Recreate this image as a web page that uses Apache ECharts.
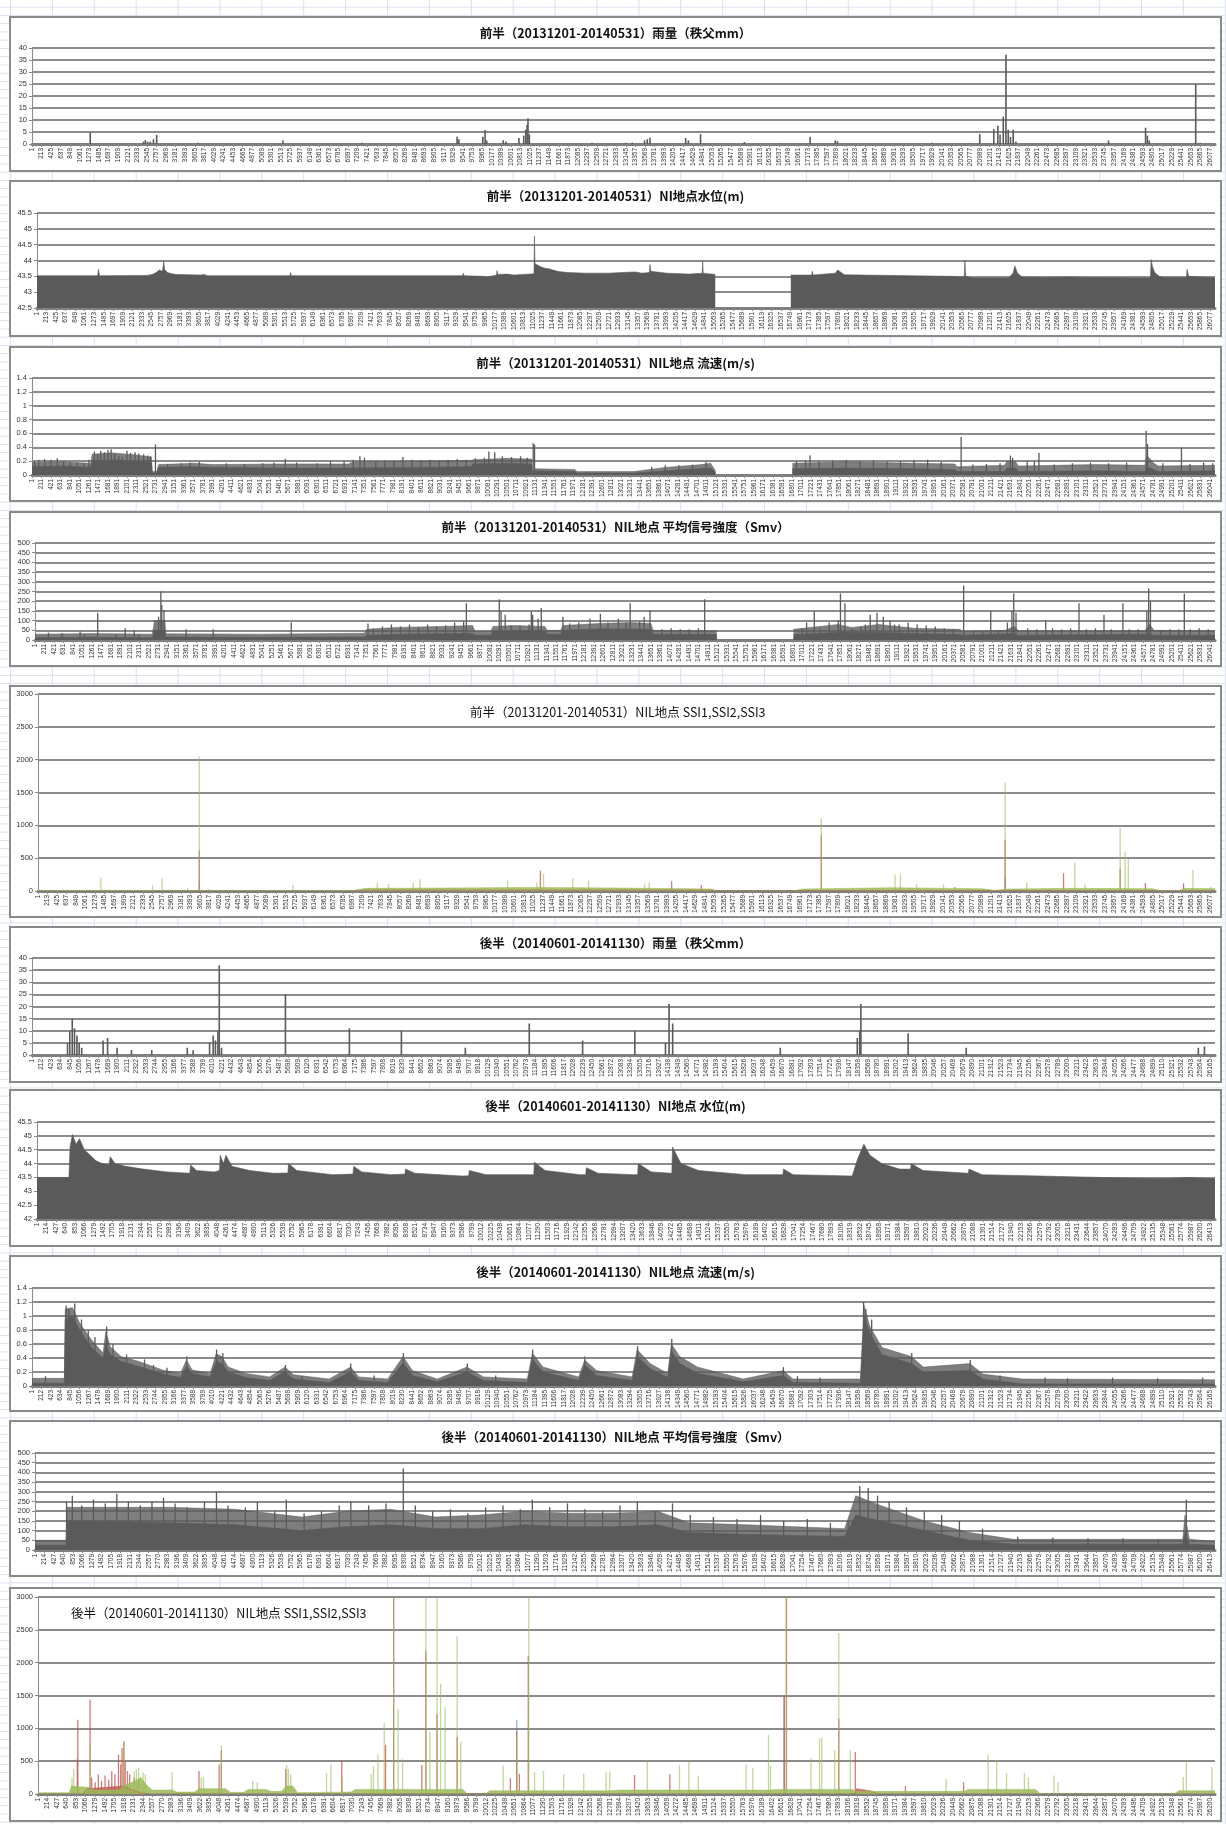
<!DOCTYPE html>
<html>
<head>
<meta charset="utf-8">
<script src="https://cdn.jsdelivr.net/npm/echarts@6/dist/echarts.min.js"></script>
<style>
html,body{margin:0;padding:0;}
body{width:1226px;height:1824px;background-color:#fff;
 background-image:linear-gradient(to right,#d9dfec 1px,transparent 1px),linear-gradient(to bottom,#d9dfec 1px,transparent 1px);
 background-size:41.9px 100%,100% 8.26px;background-position:10px 0,0 6.7px;}
#chart{width:1226px;height:1824px;}
</style>
</head>
<body>
<div id="chart"></div>
<script>
// ---- titles ----
const titles = [
  '前半（20131201-20140531）雨量（秩父mm）',
  '前半（20131201-20140531）NI地点水位(m)',
  '前半（20131201-20140531）NIL地点 流速(m/s)',
  '前半（20131201-20140531）NIL地点 平均信号強度（Smv）',
  '前半（20131201-20140531）NIL地点 SSI1,SSI2,SSI3',
  '後半（20140601-20141130）雨量（秩父mm）',
  '後半（20140601-20141130）NI地点 水位(m)',
  '後半（20140601-20141130）NIL地点 流速(m/s)',
  '後半（20140601-20141130）NIL地点 平均信号強度（Smv）',
  '後半（20140601-20141130）NIL地点 SSI1,SSI2,SSI3'
];

// ---- x tick labels: record 1, then every tickStep records ----
const tickStep = [212, 212, 210, 210, 212, 211, 213, 211, 213, 213];
const lastTick = [26077, 26077, 26041, 26041, 26077, 26165, 26413, 26165, 26413, 26200];
const lastRecord = [26187, 26190, 26152, 26150, 26190, 26275, 26525, 26275, 26525, 26310];

// ---- y scales ----
const yMin = [0, 42.5, 0, 0, 0, 0, 42, 0, 0, 0];
const yMax = [40, 45.5, 1.4, 500, 3000, 40, 45.5, 1.4, 500, 3000];
const yStep = [5, 0.5, 0.2, 50, 500, 5, 0.5, 0.2, 50, 500];

// =====================================================================
// 前半 (2013-12-01 .. 2014-05-31), [record no., value]
// =====================================================================
const rainA = [[1290,4.8],[2470,1],[2510,1.6],[2560,1],[2620,1],[2690,2],[2760,3.8],[3680,0.5],[5555,1.5],[7300,0.5],[9410,3],[9450,2],[9980,3],[10030,5.8],[10065,1.5],[10430,1.6],[10490,1],[10780,2.5],[10885,3.5],[10930,6],[10960,8],[10980,10.7],[11010,4],[12400,0.5],[13145,0.5],[13290,0.6],[13560,1.5],[13620,2],[13680,2.6],[14470,2.5],[14530,1.5],[14800,4.1],[15770,0.8],[16550,0.3],[17225,3],[17780,1.5],[17830,1.2],[19930,0.5],[20760,0.3],[20980,4.1],[21290,6.2],[21380,7.6],[21430,4],[21500,11.4],[21560,37.2],[21610,5.9],[21660,3],[21720,5.9],[21780,1],[23830,1.5],[24650,6.8],[24690,3.5],[24730,1.5],[25760,25],[25860,0.5]];

const levelA = [[1,43.52],[1350,43.52],[1370,43.72],[1390,43.52],[2450,43.53],[2560,43.56],[2650,43.62],[2720,43.7],[2790,43.66],[2805,43.7],[2820,43.98],[2835,43.72],[2900,43.62],[3000,43.58],[3100,43.56],[3650,43.54],[3700,43.56],[3800,43.52],[5625,43.52],[5640,43.62],[5655,43.52],[9465,43.52],[9480,43.6],[9495,43.52],[9900,43.5],[10000,43.48],[10150,43.52],[10215,43.54],[10230,43.68],[10245,43.56],[10450,43.57],[10600,43.54],[10800,43.56],[11050,43.58],[11060,44.77],[11072,43.9],[11200,43.8],[11260,43.77],[11290,43.82],[11320,43.75],[11380,43.74],[11470,43.7],[11600,43.65],[11800,43.62],[12200,43.6],[12700,43.6],[13000,43.62],[13300,43.64],[13450,43.6],[13615,43.62],[13630,43.87],[13645,43.66],[14000,43.6],[14500,43.57],[14790,43.6],[14800,43.98],[14812,43.6],[15080,43.56],[15100,'-'],[16740,'-'],[16760,43.54],[17225,43.54],[17240,43.66],[17255,43.54],[17750,43.6],[17800,43.7],[17850,43.65],[17950,43.55],[20300,43.5],[20615,43.48],[20630,44.0],[20645,43.5],[20800,43.45],[21600,43.45],[21700,43.6],[21740,43.83],[21800,43.6],[21900,43.48],[22400,43.46],[23000,43.48],[23300,43.46],[24755,43.45],[24770,44.03],[24800,43.8],[24850,43.62],[24950,43.5],[25050,43.46],[25555,43.46],[25570,43.72],[25600,43.5],[26190,43.45]];

// dense records: solid floor (lo), top of the noise band (hi), individual tall records (peaks)
const velocityA_lo = [[1,0.12],[700,0.13],[1300,0.11],[1330,0.2],[1800,0.22],[2300,0.19],[2640,0.18],[2660,0.03],[2760,0.03],[2800,0.11],[3500,0.12],[4000,0.11],[4010,0.1],[5500,0.1],[7000,0.1],[8500,0.11],[9700,0.12],[9750,0.16],[10500,0.17],[11050,0.16],[11060,0.03],[11130,0.06],[12000,0.05],[12050,0.03],[13300,0.03],[14000,0.06],[15000,0.1],[15110,0.04],[15121,'-'],[16800,'-'],[16810,0.09],[18000,0.1],[19500,0.09],[20400,0.08],[20450,0.05],[21500,0.05],[21550,0.1],[21750,0.1],[21800,0.05],[23500,0.06],[24600,0.05],[24650,0.12],[24800,0.08],[24900,0.05],[26150,0.06]];
const velocityA_hi = [[1,0.18],[600,0.19],[1300,0.17],[1330,0.3],[1750,0.32],[2300,0.29],[2640,0.26],[2660,0.05],[2760,0.05],[2800,0.15],[3600,0.17],[4000,0.15],[5500,0.16],[7000,0.16],[7100,0.19],[8500,0.2],[9700,0.21],[9750,0.22],[10500,0.24],[11050,0.23],[11060,0.05],[11130,0.09],[12000,0.08],[12050,0.05],[13300,0.05],[14000,0.11],[14800,0.15],[15000,0.17],[15110,0.06],[15121,'-'],[16800,'-'],[16810,0.17],[18000,0.19],[19500,0.17],[20400,0.16],[20450,0.12],[21500,0.14],[21550,0.2],[21750,0.19],[21800,0.13],[23500,0.15],[24600,0.14],[24650,0.28],[24800,0.17],[24900,0.13],[26150,0.14]];
const velocityA_peaks = [[60,0.2],[150,0.22],[280,0.23],[420,0.22],[560,0.24],[700,0.2],[850,0.19],[1000,0.18],[1150,0.17],[1260,0.22],[1380,0.34],[1450,0.3],[1520,0.35],[1600,0.33],[1680,0.36],[1750,0.37],[1830,0.3],[1920,0.27],[2000,0.26],[2100,0.35],[2180,0.32],[2280,0.33],[2360,0.31],[2470,0.3],[2560,0.28],[2620,0.27],[2730,0.44],[3000,0.16],[3300,0.17],[3500,0.18],[3700,0.19],[4300,0.17],[4700,0.16],[5100,0.17],[5350,0.18],[5600,0.23],[5850,0.18],[6300,0.17],[6600,0.2],[6900,0.2],[7100,0.22],[7250,0.27],[7350,0.25],[7600,0.2],[7800,0.21],[8000,0.2],[8200,0.26],[8400,0.22],[8600,0.21],[8800,0.22],[9000,0.21],[9200,0.22],[9400,0.23],[9600,0.22],[9800,0.24],[10000,0.25],[10100,0.34],[10230,0.33],[10400,0.27],[10600,0.26],[10800,0.27],[10950,0.25],[11080,0.46],[11110,0.44],[13700,0.12],[14000,0.14],[14300,0.14],[14600,0.15],[14900,0.19],[16900,0.2],[17100,0.21],[17200,0.28],[17400,0.2],[17700,0.21],[18000,0.22],[18300,0.2],[18600,0.21],[18900,0.2],[19200,0.2],[19500,0.21],[19800,0.22],[20100,0.19],[20540,0.55],[20800,0.15],[21100,0.16],[21400,0.17],[21630,0.28],[21680,0.25],[22000,0.2],[22160,0.2],[22260,0.32],[22600,0.15],[23000,0.17],[23400,0.18],[23800,0.17],[24200,0.18],[24630,0.64],[24660,0.45],[25000,0.17],[25410,0.4],[25600,0.16],[25900,0.18],[26100,0.17]];

const signalA_lo = [[1,12],[1300,14],[2600,12],[2650,50],[2880,50],[2900,15],[5000,14],[7300,15],[7350,25],[8500,32],[9700,33],[9750,25],[10100,25],[10150,45],[10700,48],[11300,45],[11350,30],[11650,30],[11700,50],[12600,58],[13650,55],[13700,30],[15110,28],[15121,'-'],[16800,'-'],[16810,28],[17900,40],[18800,38],[20500,28],[20550,25],[21650,32],[21800,25],[24650,30],[24800,25],[26150,25]];
const signalA_hi = [[1,30],[1300,33],[2600,30],[2650,100],[2880,100],[2900,32],[5000,30],[7300,35],[7350,55],[8000,65],[9000,70],[9700,75],[9750,45],[10100,45],[10150,70],[10600,75],[11300,70],[11350,50],[11650,50],[11700,75],[12500,85],[13200,90],[13650,85],[13700,50],[15110,48],[15121,'-'],[16800,'-'],[16810,55],[17800,80],[18100,65],[18700,80],[19500,60],[20500,55],[20550,45],[21500,50],[21700,70],[21800,48],[24600,48],[24700,80],[24800,50],[26150,48]];
const signalA_peaks = [[300,38],[600,35],[1000,45],[1100,30],[1390,140],[1800,30],[2000,60],[2200,50],[2300,30],[2740,120],[2790,250],[2810,180],[2860,155],[3350,55],[3950,55],[5680,90],[7380,85],[7500,60],[7700,70],[7900,80],[8100,70],[8300,80],[8500,65],[8700,80],[8900,70],[9100,75],[9300,90],[9500,95],[9560,190],[10290,210],[10330,150],[10420,130],[10550,75],[10750,75],[10950,80],[11000,145],[11030,130],[11150,110],[11220,165],[11700,120],[11850,85],[12050,90],[12300,110],[12530,135],[12700,90],[12930,110],[13100,90],[13190,190],[13400,95],[13500,120],[13630,155],[13900,55],[14100,60],[14300,55],[14500,55],[14700,60],[14840,210],[17000,60],[17100,90],[17270,150],[17400,60],[17600,90],[17800,100],[17850,240],[17950,190],[18100,60],[18300,70],[18400,80],[18510,130],[18660,140],[18800,120],[18950,100],[19050,80],[19150,80],[19350,90],[19550,80],[19750,75],[19950,70],[20150,60],[20350,55],[20580,280],[20800,50],[21000,45],[21180,150],[21350,50],[21550,90],[21650,150],[21690,240],[21740,140],[22000,60],[22200,55],[22400,100],[22550,60],[22750,55],[22950,60],[23136,190],[23300,55],[23500,60],[23690,130],[23850,55],[24110,190],[24250,55],[24450,55],[24640,150],[24680,265],[24720,200],[24950,50],[25150,55],[25350,55],[25470,240],[25600,55],[25800,60],[26000,55]];

// SSI: low-level band per sensor plus individual spikes
const ssi2A_band = [[1,0],[7000,0],[7300,15],[15000,15],[15100,0],[16800,0],[17000,8],[26190,5]];
const ssi3A_band = [[1,5],[1500,10],[3000,5],[7000,8],[7300,40],[9000,45],[11000,55],[13000,45],[15000,30],[15100,0],[16800,0],[17000,30],[19000,50],[21000,35],[21300,10],[21600,30],[23000,40],[24800,35],[25000,5],[25400,5],[25500,40],[26190,35]];
const ssi1A_peaks = [[3590,150],[21520,200]];
const ssi2A_peaks = [[3590,620],[11180,310],[14100,150],[14760,90],[17430,850],[20400,60],[21520,780],[22820,270],[24080,340],[24640,120],[25490,120]];
const ssi3A_peaks = [[1400,200],[2550,90],[2760,190],[3330,50],[3590,2050],[3800,30],[5670,90],[7550,120],[7800,110],[8350,120],[8500,180],[10450,160],[11100,130],[11250,260],[11900,190],[12250,160],[13500,100],[13600,130],[17430,1100],[19070,250],[19190,250],[19550,100],[20150,100],[21520,1650],[22000,120],[23070,430],[23300,100],[24080,960],[24190,600],[24260,490],[25700,320],[26100,60]];

// =====================================================================
// 後半 (2014-06-01 .. 2014-11-30), [record no., value]
// =====================================================================
const rainB = [[790,5],[840,10],[895,15],[945,11],[1000,8],[1050,5],[1105,3],[1580,6],[1680,7],[1890,3],[2210,2],[2660,2],[3450,3],[3580,2],[3945,5],[4025,8],[4075,6],[4130,10],[4160,37],[4210,3],[5630,25],[7050,11],[8205,10],[9625,3],[11045,13],[12230,6],[13390,10],[14070,5],[14150,21],[14230,13],[16620,3],[18330,7],[18385,10],[18410,21],[19460,9],[20750,3],[25905,3],[26040,3.5]];

const levelB = [[1,43.5],[720,43.5],[745,44.6],[800,45.05],[880,44.7],[960,44.9],[1065,44.5],[1200,44.3],[1330,44.1],[1465,44.0],[1620,43.95],[1650,44.25],[1755,44.0],[1995,43.9],[2395,43.8],[2660,43.75],[2925,43.7],[3440,43.65],[3460,43.95],[3590,43.75],[3990,43.7],[4110,43.75],[4125,44.3],[4200,44.0],[4240,44.05],[4255,44.3],[4390,43.9],[4790,43.75],[5320,43.65],[5650,43.66],[5665,44.0],[5850,43.75],[6650,43.6],[7115,43.62],[7130,43.9],[7315,43.7],[7980,43.6],[8285,43.62],[8300,43.8],[8510,43.65],[9575,43.55],[9720,43.56],[9735,43.75],[10110,43.6],[11185,43.6],[11200,44.05],[11440,43.75],[12235,43.6],[12355,43.6],[12370,43.85],[12635,43.65],[13435,43.6],[13525,43.6],[13540,44.0],[13830,43.7],[14295,43.65],[14310,44.6],[14500,44.0],[14895,43.75],[15960,43.6],[16795,43.6],[16810,43.8],[17025,43.6],[18355,43.55],[18485,44.2],[18620,44.7],[18755,44.3],[19020,44.0],[19420,43.8],[19670,43.8],[19685,44.0],[19950,43.75],[20970,43.65],[20985,43.8],[21280,43.6],[22610,43.55],[23940,43.5],[25270,43.45],[25935,43.5],[26525,43.45]];

const velocityB_lo = [[1,0.04],[720,0.04],[740,0.95],[900,1.0],[1060,0.8],[1320,0.55],[1580,0.4],[1640,0.6],[1740,0.45],[1980,0.35],[2380,0.28],[2900,0.17],[3300,0.12],[3430,0.28],[3560,0.18],[3960,0.13],[4090,0.35],[4220,0.32],[4360,0.2],[4750,0.12],[5280,0.08],[5620,0.2],[5810,0.1],[6600,0.05],[7075,0.2],[7260,0.08],[7900,0.05],[8240,0.33],[8450,0.15],[9000,0.06],[9660,0.2],[10030,0.08],[11000,0.05],[11115,0.38],[11350,0.2],[12140,0.08],[12275,0.3],[12540,0.15],[13330,0.08],[13440,0.42],[13730,0.25],[14120,0.12],[14200,0.5],[14390,0.32],[14780,0.18],[15800,0.06],[16685,0.15],[16900,0.05],[18400,0.04],[18480,1.0],[18610,0.75],[18880,0.45],[19530,0.32],[19800,0.2],[20830,0.22],[21120,0.1],[22000,0.03],[26275,0.03]];
const velocityB_hi = [[1,0.11],[720,0.11],[740,1.1],[900,1.12],[1060,0.9],[1320,0.66],[1580,0.47],[1640,0.78],[1740,0.56],[1980,0.42],[2380,0.35],[2900,0.23],[3300,0.18],[3430,0.37],[3560,0.23],[3960,0.18],[4090,0.46],[4220,0.42],[4360,0.27],[4750,0.18],[5280,0.13],[5620,0.27],[5810,0.16],[6600,0.1],[7075,0.27],[7260,0.13],[7900,0.1],[8240,0.42],[8450,0.22],[9000,0.1],[9660,0.27],[10030,0.13],[11000,0.1],[11115,0.47],[11350,0.27],[12140,0.13],[12275,0.37],[12540,0.22],[13330,0.13],[13440,0.52],[13730,0.32],[14120,0.18],[14200,0.6],[14390,0.42],[14780,0.27],[15800,0.1],[16685,0.22],[16900,0.1],[18400,0.1],[18480,1.15],[18610,0.85],[18880,0.55],[19530,0.42],[19800,0.27],[20830,0.32],[21120,0.17],[22000,0.1],[26275,0.09]];
const velocityB_peaks = [[300,0.14],[760,1.15],[820,1.1],[950,1.18],[1100,0.95],[1250,0.8],[1400,0.7],[1660,0.85],[1800,0.6],[2100,0.45],[2500,0.38],[2700,0.3],[3000,0.26],[3440,0.42],[4100,0.52],[4240,0.47],[5630,0.3],[6000,0.14],[7080,0.32],[7600,0.15],[8250,0.47],[9670,0.32],[10300,0.15],[11120,0.52],[12280,0.42],[13450,0.57],[14210,0.67],[15000,0.14],[15500,0.12],[16690,0.27],[17000,0.14],[17500,0.12],[18470,1.2],[18520,1.1],[18650,0.95],[19540,0.47],[20840,0.37],[21500,0.15],[22500,0.12],[23000,0.11],[24000,0.12],[25000,0.11],[26000,0.12]];

const signalB_lo = [[1,25],[700,25],[720,150],[3000,140],[4500,130],[6000,100],[7000,120],[8000,130],[9000,110],[10000,110],[11000,130],[12000,120],[13000,120],[14000,130],[14700,90],[16000,80],[18200,70],[18450,180],[19000,150],[20000,100],[21000,50],[22000,30],[25800,30],[25850,90],[25950,30],[26525,25]];
const signalB_hi = [[1,50],[700,50],[720,220],[3000,220],[4500,210],[6000,170],[7000,200],[8000,210],[9000,170],[10000,180],[11000,200],[12000,190],[13000,190],[14000,200],[14700,140],[16000,130],[18200,110],[18450,280],[19000,230],[20000,150],[21000,90],[22000,55],[25800,55],[25850,180],[25950,55],[26525,45]];
const signalB_peaks = [[710,250],[840,280],[1050,230],[1315,260],[1580,240],[1840,290],[2100,250],[2370,230],[2630,250],[2890,270],[3150,240],[3420,220],[3810,250],[4080,300],[4340,230],[4730,220],[5000,250],[5390,200],[5650,260],[6050,190],[6440,200],[6840,230],[7100,250],[7500,230],[7890,240],[8280,420],[8550,230],[8940,200],[9340,210],[9730,190],[10130,220],[10520,230],[10910,210],[11180,260],[11570,220],[11970,240],[12360,210],[12760,200],[13150,230],[13540,250],[13940,200],[14330,240],[14730,180],[15250,170],[15780,160],[16310,180],[16830,150],[17360,160],[17880,140],[18280,150],[18540,330],[18730,320],[18940,280],[19200,250],[19590,220],[19990,200],[20380,180],[20780,150],[21300,110],[22090,70],[22880,65],[23670,60],[24460,60],[25250,55],[25880,260]];

const ssi2B_band = [[1,0],[1000,0],[1100,80],[1900,120],[2100,60],[2300,20],[2500,0],[18250,0],[18300,80],[18600,50],[18800,0],[26310,0]];
const ssi3B_band = [[1,20],[700,20],[750,120],[1150,100],[1250,60],[1800,60],[1900,120],[2100,180],[2300,250],[2450,120],[2550,60],[3000,60],[3100,30],[3500,30],[3600,80],[4200,80],[4300,25],[4600,25],[4700,70],[5100,70],[5200,40],[5450,40],[5550,120],[5700,120],[5800,20],[7000,30],[7100,70],[9500,70],[9600,0],[10000,0],[10100,50],[12800,50],[13000,60],[16400,60],[16500,70],[18200,70],[18300,40],[20700,40],[20800,70],[22300,70],[22400,3],[25400,3],[25500,50],[26310,50]];
const ssi1B_peaks = [[10700,1130],[16680,1500]];
const ssi2B_peaks = [[880,530],[890,1130],[1165,1440],[1200,250],[1280,180],[1350,300],[1420,200],[1500,280],[1580,220],[1650,350],[1720,300],[1800,600],[1850,450],[1880,700],[1920,800],[1950,500],[2000,350],[2050,300],[2150,250],[2250,200],[3600,350],[4050,450],[4100,670],[5540,380],[6790,500],[7770,750],[7950,3000],[8580,440],[8670,2180],[8920,1220],[9370,870],[10560,240],[10700,950],[10760,310],[10960,2100],[13335,290],[14125,300],[16680,1500],[16730,3000],[17900,1150],[18270,640],[19390,120],[20690,180]];
const ssi3B_peaks = [[760,250],[800,380],[1165,750],[1920,800],[2150,350],[2200,380],[2250,400],[2350,330],[2400,300],[3000,330],[3650,250],[3700,260],[4100,740],[4800,200],[4900,180],[5560,440],[5600,380],[5650,300],[6450,320],[6550,450],[6800,250],[7450,300],[7500,420],[7600,600],[7740,1080],[7950,3000],[8050,1300],[8150,530],[8670,3000],[8760,950],[8920,3000],[9000,1680],[9100,1320],[9370,2400],[9450,800],[10400,430],[10700,900],[10970,3000],[11100,340],[11300,350],[11750,300],[12200,310],[12700,330],[12781,340],[13620,500],[14340,440],[14550,500],[14760,270],[15830,450],[15980,400],[16330,900],[16375,430],[16730,3000],[17280,550],[17470,850],[17520,860],[17810,670],[17900,2450],[18160,670],[20300,230],[21240,600],[21430,520],[21650,320],[22050,320],[22140,250],[22710,280],[22800,180],[25600,260],[25670,500],[26240,410]];

// ---- panel geometry (page pixels) ----
const layout = [
  {box:[17,171],  title:33,   plot:[48,144],   left:32},
  {box:[181,336], title:196,  plot:[213,308],  left:37},
  {box:[347,501], title:363,  plot:[378,475],  left:32},
  {box:[512,666], title:527,  plot:[543,640],  left:35},
  {box:[686,917], title:712,  plot:[694,891],  left:38, titleX:470},
  {box:[927,1082],title:943,  plot:[958,1055], left:32},
  {box:[1090,1246],title:1106,plot:[1122,1219],left:37},
  {box:[1256,1411],title:1272,plot:[1288,1386],left:32},
  {box:[1421,1576],title:1437,plot:[1453,1550],left:35},
  {box:[1588,1821],title:1613,plot:[1597,1794],left:38, titleX:71}
];
const PLOT_RIGHT = 1215;
const BOX_LEFT = 10, BOX_RIGHT = 1221;
const DARK = '#5a5a5a';
const C_SSI1 = '#4f81bd', C_SSI2 = '#c0504d', C_SSI3 = '#9bbb59';

function tickValues(step, last) {
  const v = [];
  for (let t = 1; t <= last; t += step) v.push(t);
  return v;
}

const grid = [], xAxis = [], yAxis = [], series = [], graphic = [];

layout.forEach((p, i) => {
  graphic.push({type:'rect', z:-10, shape:{x:BOX_LEFT, y:p.box[0], width:BOX_RIGHT-BOX_LEFT, height:p.box[1]-p.box[0]},
    style:{fill:'#fff', stroke:'#8a8a8a', lineWidth:2}});
  const isSSI = p.titleX !== undefined;
  graphic.push({type:'text', z:10, x: isSSI ? p.titleX : (BOX_LEFT+BOX_RIGHT)/2, y:p.title,
    style:{text:titles[i], fill:'#111', textAlign: isSSI ? 'left' : 'center', textVerticalAlign:'middle',
      font: isSSI ? '12.5px "Noto Sans CJK JP"' : 'bold 12.5px "Noto Sans CJK JP"'}});
  grid.push({left:p.left, top:p.plot[0], width:PLOT_RIGHT-p.left, height:p.plot[1]-p.plot[0]});
  const ticks = tickValues(tickStep[i], lastTick[i]);
  xAxis.push({type:'value', gridIndex:i, min:1, max:lastRecord[i],
    axisLine:{show:true, onZero:false, lineStyle:{color:'#7f7f7f', width:3}},
    axisTick:{show:true, customValues:ticks, length:3, lineStyle:{color:'#8a8a8a', width:1}},
    axisLabel:{show:true, customValues:ticks, rotate:90, fontSize:6.5, color:'#333', margin:4,
      fontFamily:'"Liberation Sans", Arial, sans-serif', formatter:(v)=>String(v)},
    splitLine:{show:false}});
  yAxis.push({type:'value', gridIndex:i, min:yMin[i], max:yMax[i], interval:yStep[i],
    axisLine:{show:true, lineStyle:{color:'#8a8a8a', width:1}},
    axisTick:{show:true, length:3, lineStyle:{color:'#8a8a8a'}},
    axisLabel:{fontSize:7.5, color:'#333', margin:5, fontFamily:'"Liberation Sans", Arial, sans-serif',
      formatter:(v)=>String(v)},
    splitLine:{show:true, lineStyle:{color:'#8c8c8c', width:2}}});
});

function areaSeries(i, data, color, opacity) {
  return {type:'line', xAxisIndex:i, yAxisIndex:i, data, symbol:'none', silent:true,
    connectNulls:false, animation:false,
    lineStyle:{color, width:0.6, opacity}, areaStyle:{color, opacity}};
}
function spikeSeries(i, data, color, opacity, width) {
  return {type:'bar', xAxisIndex:i, yAxisIndex:i, data, barWidth:width, barGap:'-100%',
    silent:true, animation:false, itemStyle:{color, opacity}};
}
const BAND = 0.78;

// 前半
series.push(spikeSeries(0, rainA, DARK, 1, 1.6));
series.push(areaSeries(1, levelA, DARK, 1));
series.push(areaSeries(2, velocityA_hi, DARK, BAND));
series.push(areaSeries(2, velocityA_lo, DARK, 1));
series.push(spikeSeries(2, velocityA_peaks, DARK, 1, 1.3));
series.push(areaSeries(3, signalA_hi, DARK, BAND));
series.push(areaSeries(3, signalA_lo, DARK, 1));
series.push(spikeSeries(3, signalA_peaks, DARK, 1, 1.3));
series.push(areaSeries(4, ssi2A_band, C_SSI2, 0.8));
series.push(areaSeries(4, ssi3A_band, C_SSI3, 0.85));
series.push(spikeSeries(4, ssi1A_peaks, C_SSI1, 0.6, 1.3));
series.push(spikeSeries(4, ssi2A_peaks, C_SSI2, 0.75, 1.3));
series.push(spikeSeries(4, ssi3A_peaks, C_SSI3, 0.6, 1.3));
// 後半
series.push(spikeSeries(5, rainB, DARK, 1, 1.6));
series.push(areaSeries(6, levelB, DARK, 1));
series.push(areaSeries(7, velocityB_hi, DARK, BAND));
series.push(areaSeries(7, velocityB_lo, DARK, 1));
series.push(spikeSeries(7, velocityB_peaks, DARK, 1, 1.3));
series.push(areaSeries(8, signalB_hi, DARK, BAND));
series.push(areaSeries(8, signalB_lo, DARK, 1));
series.push(spikeSeries(8, signalB_peaks, DARK, 1, 1.3));
series.push(areaSeries(9, ssi2B_band, C_SSI2, 0.8));
series.push(areaSeries(9, ssi3B_band, C_SSI3, 0.85));
series.push(spikeSeries(9, ssi1B_peaks, C_SSI1, 0.6, 1.3));
series.push(spikeSeries(9, ssi2B_peaks, C_SSI2, 0.75, 1.3));
series.push(spikeSeries(9, ssi3B_peaks, C_SSI3, 0.6, 1.3));

const chart = echarts.init(document.getElementById('chart'), null, {renderer:'canvas', width:1226, height:1824});
chart.setOption({animation:false, backgroundColor:'transparent', grid, xAxis, yAxis, series, graphic});
</script>
</body>
</html>
